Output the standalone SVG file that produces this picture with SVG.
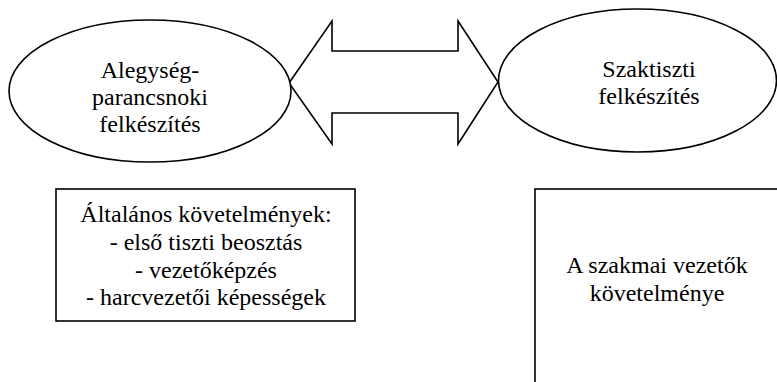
<svg xmlns="http://www.w3.org/2000/svg" width="777" height="382" viewBox="0 0 777 382">
<style>
.s{fill:#fff;stroke:#000;stroke-width:1.6}
.t{font-family:'Liberation Serif','Times New Roman',Times,'DejaVu Serif',serif;font-size:24px;fill:#000;text-anchor:middle}
</style>
<rect width="777" height="382" fill="#fff"/>
<g id="connectors">
<polygon class="s" points="289,83 332,21 332,51 458,51 458,21 498,82 458,144 458,113 332,113 332,144"/>
</g>
<g id="node-alegyseg">
<ellipse class="s" cx="150" cy="91" rx="141" ry="71"/>
<text class="t" font-family="Liberation Serif, serif" x="150" y="78">Alegység-</text>
<text class="t" font-family="Liberation Serif, serif" x="150" y="105">parancsnoki</text>
<text class="t" font-family="Liberation Serif, serif" x="150" y="132">felkészítés</text>
</g>
<g id="node-szaktiszti">
<ellipse class="s" cx="637.5" cy="80.5" rx="139" ry="71.5"/>
<text class="t" x="649" y="77">Szaktiszti</text>
<text class="t" x="649" y="104">felkészítés</text>
</g>
<g id="node-altalanos">
<rect class="s" x="56" y="189" width="299" height="132"/>
<text class="t" x="206" y="222">Általános követelmények:</text>
<text class="t" x="206" y="250">- első tiszti beosztás</text>
<text class="t" x="206" y="278">- vezetőképzés</text>
<text class="t" x="206" y="305">- harcvezetői képességek</text>
</g>
<g id="node-szakmai">
<rect class="s" x="535" y="189" width="250" height="200"/>
<text class="t" x="657" y="273">A szakmai vezetők</text>
<text class="t" x="657" y="301">követelménye</text>
</g>
</svg>
